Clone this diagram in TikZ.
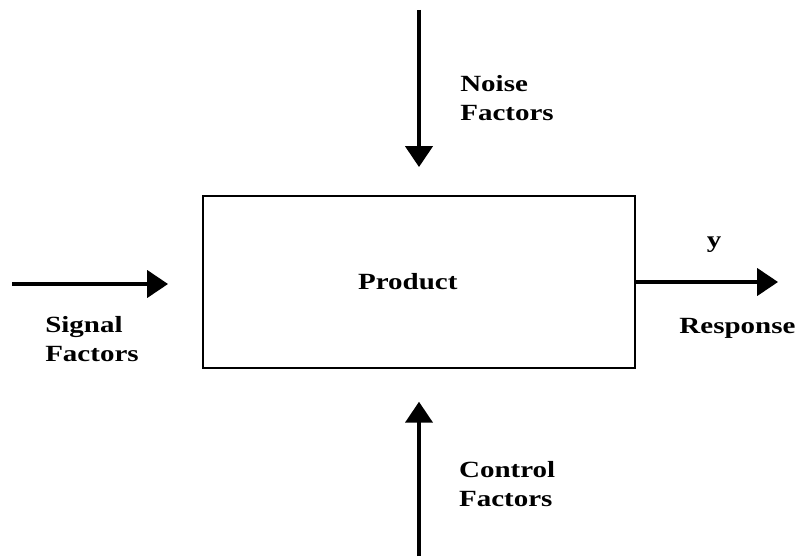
\documentclass[tikz,border=0pt]{standalone}
\usepackage{fontspec}
\setmainfont{Liberation Serif}[FakeStretch=1.25]
\usetikzlibrary{arrows.meta}
\tikzstyle{product} = [rectangle, minimum width=10.8cm, minimum height=4.3cm, text centered, draw=black, line width=1.4pt]
\tikzstyle{lbl} = [align=left, inner sep=0pt, anchor=west, font=\fontsize{16.5}{20.6}\selectfont\bfseries]
\tikzstyle{arrow} = [line width=2.2pt, -{Triangle[length=0.52cm, width=0.68cm]}]

\begin{document}
\begin{tikzpicture}
\useasboundingbox (0,0) rectangle (19.925,13.9);

\node (prod) [product] at (10.475,6.85) {};
\node (prodlbl) [lbl, anchor=center] at ([xshift=-0.28cm]prod.center) {Product};

\coordinate (noisein) at (10.475,13.65);
\coordinate (noiseend) at ([yshift=0.7cm]prod.north);
\coordinate (ctrlin) at (10.475,0);
\coordinate (ctrlend) at ([yshift=-0.82cm]prod.south);
\coordinate (sigin) at (0.3,6.8);
\coordinate (sigend) at (4.2,6.8);
\coordinate (respend) at (19.45,6.85);

\node (noise) [lbl] at (11.5,11.45) {Noise\\Factors};
\node (signal) [lbl] at (1.125,5.42) {Signal\\Factors};
\node (ylbl) [lbl, anchor=center] at (17.85,7.78) {y};
\node (resp) [lbl] at (16.98,5.7) {Response};
\node (control) [lbl] at (11.47,1.81) {Control\\Factors};

\draw [arrow] (noisein) -- (noiseend);
\draw [arrow] (ctrlin) -- (ctrlend);
\draw [arrow] (sigin) -- (sigend);
\draw [arrow] (prod.east |- respend) -- (respend);

\end{tikzpicture}
\end{document}
